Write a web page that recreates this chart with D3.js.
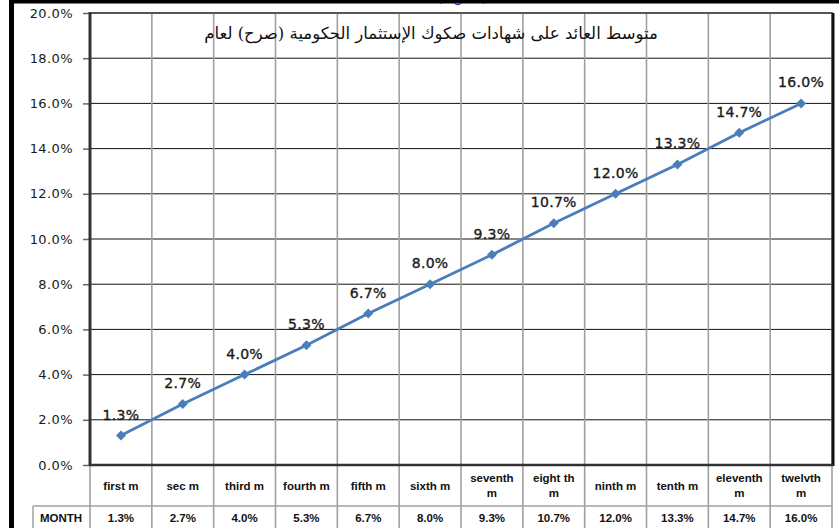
<!DOCTYPE html>
<html>
<head>
    <meta charset="utf-8">
    <script src="https://d3js.org/d3.v7.min.js"></script>
    <style>
        body { margin: 0; background: #fff; }
        svg { display: block; }
    </style>
</head>
<body>
    <div id="chart"></div>

    <script>
        // data
        const months = ["first m", "sec m", "third m", "fourth m", "fifth m", "sixth m",
            "seventh m", "eight th m", "ninth m", "tenth m", "eleventh m", "twelvth m"];
        const monthLines = [["first m"], ["sec m"], ["third m"], ["fourth m"], ["fifth m"], ["sixth m"],
            ["seventh", "m"], ["eight th", "m"], ["ninth m"], ["tenth m"], ["eleventh", "m"], ["twelvth", "m"]];
        const yieldPct = [1.3, 2.7, 4.0, 5.3, 6.7, 8.0, 9.3, 10.7, 12.0, 13.3, 14.7, 16.0];
        const yTicks = [0, 2, 4, 6, 8, 10, 12, 14, 16, 18, 20];
        const title = "متوسط العائد على شهادات صكوك الإستثمار الحكومية (صرح) لعام";
        const rowLabel = "MONTH";

        const width = 839, height = 528;
        const pLeft = 90, pRight = 832, pTop = 13, pBottom = 465;
        const tableMid = 506;

        const svg = d3.select("#chart").append("svg")
            .attr("width", width)
            .attr("height", height);

        const x = d3.scaleBand().domain(months).range([pLeft, pRight]);
        const y = d3.scaleLinear().domain([0, 20]).range([pBottom, pTop]);
        const bw = x.bandwidth();
        const cx = m => x(m) + bw / 2;

        // horizontal grid
        svg.append("g").selectAll("line")
            .data(yTicks.filter(t => t > 0))
            .enter().append("line")
            .attr("x1", pLeft).attr("x2", pRight)
            .attr("y1", d => y(d)).attr("y2", d => y(d))
            .attr("stroke", "#111").attr("stroke-width", 1);

        // vertical grid, runs down through the table
        const bounds = months.map(m => x(m)).concat([pRight]);
        svg.append("g").selectAll("line")
            .data(bounds)
            .enter().append("line")
            .attr("x1", d => d).attr("x2", d => d)
            .attr("y1", pTop).attr("y2", height)
            .attr("stroke", "#a0a0a0").attr("stroke-width", 1.6);

        // table lines
        svg.append("line")
            .attr("x1", 33).attr("x2", pRight)
            .attr("y1", tableMid).attr("y2", tableMid)
            .attr("stroke", "#a0a0a0").attr("stroke-width", 1.5);
        svg.append("line")
            .attr("x1", 33).attr("x2", 33)
            .attr("y1", tableMid).attr("y2", height)
            .attr("stroke", "#a0a0a0").attr("stroke-width", 1.5);

        // plot frame
        svg.append("line")
            .attr("x1", pLeft).attr("x2", pRight + 1)
            .attr("y1", pTop).attr("y2", pTop)
            .attr("stroke", "#444").attr("stroke-width", 1.5);
        svg.append("line")
            .attr("x1", pRight + 1).attr("x2", pRight + 1)
            .attr("y1", pTop).attr("y2", pBottom + 1)
            .attr("stroke", "#111").attr("stroke-width", 3);

        // y axis
        const yAxis = svg.append("g")
            .attr("transform", `translate(${pLeft},0)`)
            .call(d3.axisLeft(y).tickValues(yTicks).tickSize(7).tickPadding(10)
                .tickFormat(d => d.toFixed(1) + "%"));
        yAxis.select(".domain").remove();
        yAxis.selectAll(".tick line").attr("stroke", "#666").attr("stroke-width", 1.5);
        yAxis.selectAll(".tick text")
            .attr("fill", "#1a1a1a")
            .style("font-family", "DejaVu Sans, sans-serif")
            .style("font-size", "13px")
            .style("letter-spacing", "0.4px");

        svg.append("line")
            .attr("x1", pLeft).attr("x2", pLeft)
            .attr("y1", pTop - 1).attr("y2", pBottom + 1)
            .attr("stroke", "#333").attr("stroke-width", 3);
        svg.append("line")
            .attr("x1", pLeft).attr("x2", pRight + 1)
            .attr("y1", pBottom).attr("y2", pBottom)
            .attr("stroke", "#333").attr("stroke-width", 2.5);

        // title
        svg.append("text")
            .attr("x", 431).attr("y", 39)
            .attr("text-anchor", "middle")
            .attr("direction", "rtl")
            .style("font-family", "DejaVu Serif, DejaVu Sans, serif")
            .style("font-size", "16.5px")
            .attr("fill", "#111")
            .text(title);

        // series line
        const line = d3.line()
            .x((d, i) => cx(months[i]))
            .y(d => y(d));

        svg.append("path")
            .datum(yieldPct)
            .attr("d", line)
            .attr("fill", "none")
            .attr("stroke", "#4a7ebb")
            .attr("stroke-width", 2.8);

        svg.append("g").selectAll("path")
            .data(yieldPct)
            .enter().append("path")
            .attr("transform", (d, i) => `translate(${cx(months[i])},${y(d)}) rotate(45)`)
            .attr("d", d3.symbol().type(d3.symbolSquare).size(50))
            .attr("fill", "#4a7ebb");

        // data labels
        svg.append("g").selectAll("text")
            .data(yieldPct)
            .enter().append("text")
            .attr("x", (d, i) => cx(months[i]))
            .attr("y", d => y(d) - 16)
            .attr("text-anchor", "middle")
            .style("font-family", "DejaVu Sans, sans-serif")
            .style("font-size", "14px")
            .style("letter-spacing", "0.3px")
            .attr("fill", "#1a1a1a")
            .attr("stroke", "#1a1a1a")
            .attr("stroke-width", 0.35)
            .text(d => d.toFixed(1) + "%");

        // data table
        const tableFont = "Liberation Sans, Arial, sans-serif";
        const catText = svg.append("g").selectAll("text")
            .data(monthLines)
            .enter().append("text")
            .attr("text-anchor", "middle")
            .style("font-family", tableFont)
            .style("font-size", "11.5px")
            .style("font-weight", "bold")
            .attr("fill", "#111");
        catText.each(function(lines, i) {
            const t = d3.select(this);
            const y0 = lines.length === 1 ? 490 : 482;
            lines.forEach((s, k) => {
                t.append("tspan")
                    .attr("x", cx(months[i]))
                    .attr("y", y0 + k * 15)
                    .text(s);
            });
        });

        svg.append("g").selectAll("text")
            .data(yieldPct)
            .enter().append("text")
            .attr("x", (d, i) => cx(months[i]))
            .attr("y", 522)
            .attr("text-anchor", "middle")
            .style("font-family", tableFont)
            .style("font-size", "11.5px")
            .style("font-weight", "bold")
            .attr("fill", "#111")
            .text(d => d.toFixed(1) + "%");

        svg.append("text")
            .attr("x", 61).attr("y", 522)
            .attr("text-anchor", "middle")
            .style("font-family", tableFont)
            .style("font-size", "11.5px")
            .style("font-weight", "bold")
            .attr("fill", "#111")
            .text(rowLabel);

        // outer frame of the page
        svg.append("text")
            .attr("x", 462).attr("y", 3)
            .attr("text-anchor", "middle")
            .style("font-family", "DejaVu Sans, sans-serif")
            .style("font-size", "13px")
            .attr("fill", "#1f3fd0")
            .text("(شكل ٥)");
        svg.append("rect")
            .attr("x", 10).attr("y", 0)
            .attr("width", width - 10).attr("height", 3.5)
            .attr("fill", "#000");
        svg.append("rect")
            .attr("x", 9).attr("y", 0)
            .attr("width", 5).attr("height", height)
            .attr("fill", "#000");
    </script>
</body>
</html>
